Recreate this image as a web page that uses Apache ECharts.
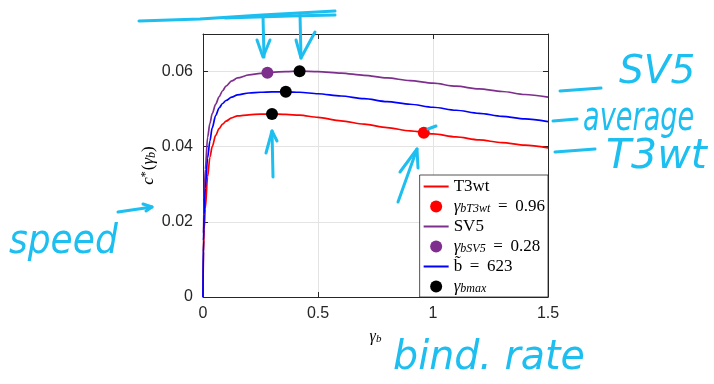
<!DOCTYPE html>
<html>
<head>
<meta charset="utf-8">
<script src="https://cdn.jsdelivr.net/npm/echarts@6/dist/echarts.min.js"></script>
<style>
  html, body { margin: 0; padding: 0; background: #fff; }
  #chart { width: 714px; height: 384px; }
</style>
</head>
<body>
<div id="chart"></div>
<script>
// Sampled binding rate gamma_b
const gammaB = [0, 0.002, 0.005, 0.01, 0.02, 0.03, 0.04, 0.055, 0.07, 0.085, 0.1, 0.125, 0.15,
                0.2, 0.25, 0.3, 0.36, 0.42, 0.5, 0.6, 0.7, 0.8, 0.9, 1.0, 1.1, 1.2, 1.3, 1.4, 1.5];

// Speed c*(gamma_b) for each motor
const speedT3wt = [0, 0.012, 0.018, 0.0235, 0.032, 0.0372, 0.0400, 0.0430, 0.0448, 0.0460, 0.0468, 0.0477, 0.0482,
                   0.0485, 0.0487, 0.0487, 0.0486, 0.0484, 0.0478, 0.0469, 0.0460, 0.0451, 0.0442, 0.0434,
                   0.0426, 0.0418, 0.0411, 0.0404, 0.0397];
const speedSV5 = [0, 0.017, 0.026, 0.034, 0.0425, 0.0462, 0.0488, 0.0513, 0.0533, 0.0549, 0.0561, 0.0575, 0.0583,
                  0.0591, 0.0595, 0.0598, 0.0600, 0.0601, 0.0600, 0.0596, 0.0590, 0.0583, 0.0576, 0.0569,
                  0.0561, 0.0554, 0.0547, 0.0539, 0.0532];
const speedAverage = [0, 0.015, 0.022, 0.029, 0.037, 0.0415, 0.0450, 0.0483, 0.0503, 0.0515, 0.0523, 0.0532, 0.0538,
                      0.0543, 0.0545, 0.0546, 0.0546, 0.0545, 0.0541, 0.0535, 0.0528, 0.0520, 0.0513, 0.0505,
                      0.0497, 0.0489, 0.0481, 0.0474, 0.0467];

// Marked points
const pointT3wt = [[0.96, 0.0437]];
const pointSV5 = [[0.28, 0.0597]];
const pointsMax = [[0.30, 0.0487], [0.36, 0.0546], [0.42, 0.0601]];

// Tick labels
const xTicks = { 0: '0', 0.5: '0.5', 1: '1', 1.5: '1.5' };
const yTicks = { 0: '0', 0.02: '0.02', 0.04: '0.04', 0.06: '0.06' };

// Legend entries
const legendNames = ['T3wt', 'γbT3wt = 0.96', 'SV5', 'γbSV5 = 0.28', 'b̃ = 623', 'γbmax'];
const legendIsDot = [false, true, false, true, false, true];
const legendRich = {
  'T3wt': '{r|T3wt}',
  'γbT3wt = 0.96': '{g|γ}{s|bT3wt}{r| \u2009=\u2009 0.96}',
  'SV5': '{r|SV5}',
  'γbSV5 = 0.28': '{g|γ}{s|bSV5}{r| \u2009=\u2009 0.28}',
  'b̃ = 623': '{r|b\u0303 \u2009=\u2009 623}',
  'γbmax': '{g|γ}{s|bmax}'
};

// Hand-drawn ink notes
const ink = '#1DBEF0';
const inkStrokes = [
  [[139, 21], [200, 19], [262, 15], [335, 11]],
  [[225, 18], [290, 16], [335, 15]],
  [[263, 16], [264, 57]], [[257, 40], [263, 57], [270, 40]],
  [[300, 14], [301, 58]], [[296, 40], [301, 58], [315, 32]],
  [[273, 177], [272, 131]], [[266, 153], [272, 131], [277, 141]],
  [[398, 202], [417, 149]], [[400, 172], [417, 149], [418, 168]],
  [[428, 129], [436, 126]],
  [[560, 91], [601, 88]],
  [[553, 121], [577, 119]],
  [[555, 152], [595, 149]],
  [[118, 212], [152, 207]], [[143, 204], [152, 207], [146, 211]]
];
const inkWords = [
  { text: 'SV5', x: 619, y: 53, size: 39, sx: 1.0 },
  { text: 'average', x: 583, y: 100, size: 40, sx: 0.68 },
  { text: 'T3wt', x: 606, y: 137, size: 41, sx: 1.0 },
  { text: 'speed', x: 9, y: 223, size: 40, sx: 0.9 },
  { text: 'bind. rate', x: 393, y: 339, size: 40, sx: 0.99 }
];

const serif = 'Liberation Serif';
const sans = 'Liberation Sans';
const axisColor = '#262626';

const chart = echarts.init(document.getElementById('chart'), null, { renderer: 'canvas' });

const pairs = (ys) => gammaB.map((x, i) => [x, ys[i]]);

const commonAxis = {
  type: 'value',
  axisLine: { show: true, onZero: false, lineStyle: { color: axisColor, width: 1 } },
  axisTick: { show: true, inside: true, length: 5, lineStyle: { color: axisColor } },
  splitLine: { show: false }
};

const option = {
  animation: false,
  backgroundColor: '#fff',
  grid: { left: 203, top: 34, width: 345, height: 263, containLabel: false },
  xAxis: [
    Object.assign({}, commonAxis, {
      min: 0, max: 1.5, interval: 0.5, position: 'bottom',
      splitLine: { show: true, lineStyle: { color: '#e3e3e3', width: 1 } },
      axisLabel: {
        margin: 9, fontSize: 16, fontFamily: sans, color: axisColor,
        formatter: (v) => xTicks[Math.round(v * 10) / 10] ?? ''
      },
      name: '{g|γ}{s|b}',
      nameLocation: 'middle',
      nameGap: 32,
      nameTextStyle: {
        rich: {
          g: { fontFamily: serif, fontStyle: 'italic', fontSize: 16, lineHeight: 16, color: '#000', verticalAlign: 'middle' },
          s: { fontFamily: serif, fontStyle: 'italic', fontSize: 11, lineHeight: 10, color: '#000', verticalAlign: 'bottom' }
        }
      }
    }),
    Object.assign({}, commonAxis, {
      min: 0, max: 1.5, interval: 0.5, position: 'top',
      axisLabel: { show: false }
    })
  ],
  yAxis: [
    Object.assign({}, commonAxis, {
      min: 0, max: 0.07, interval: 0.02, position: 'left',
      splitLine: { show: true, lineStyle: { color: '#e3e3e3', width: 1 } },
      axisLabel: {
        margin: 10, fontSize: 16, fontFamily: sans, color: axisColor,
        formatter: (v) => yTicks[Math.round(v * 100) / 100] ?? ''
      },
      name: '{i|c}{p|*}{r|(}{g|γ}{s|b}{r|)}',
      nameLocation: 'middle',
      nameGap: 44,
      nameTextStyle: {
        rich: {
          i: { fontFamily: serif, fontStyle: 'italic', fontSize: 17, lineHeight: 18, color: '#000', verticalAlign: 'middle' },
          p: { fontFamily: serif, fontSize: 12, lineHeight: 18, color: '#000', verticalAlign: 'top', padding: [0, 1, 0, 0] },
          r: { fontFamily: serif, fontSize: 17, lineHeight: 18, color: '#000', verticalAlign: 'middle' },
          g: { fontFamily: serif, fontStyle: 'italic', fontSize: 17, lineHeight: 18, color: '#000', verticalAlign: 'middle' },
          s: { fontFamily: serif, fontStyle: 'italic', fontSize: 12, lineHeight: 11, color: '#000', verticalAlign: 'bottom' }
        }
      }
    }),
    Object.assign({}, commonAxis, {
      min: 0, max: 0.07, interval: 0.02, position: 'right',
      axisLabel: { show: false }
    })
  ],
  legend: {
    data: legendNames.map((n, i) => legendIsDot[i]
      ? { name: n, icon: 'circle' }
      : { name: n, itemStyle: { opacity: 0 } }),
    orient: 'vertical',
    right: 166,
    top: 175,
    itemWidth: 25,
    itemHeight: 12,
    itemGap: 3,
    padding: [3, 3, 2, 3],
    borderColor: axisColor,
    borderWidth: 0.8,
    borderRadius: 0,
    backgroundColor: '#fff',
    selectedMode: false,
    formatter: (name) => legendRich[name],
    textStyle: {
      fontFamily: serif, fontSize: 17, lineHeight: 16, color: '#000',
      rich: {
        r: { fontFamily: serif, fontSize: 17, lineHeight: 16, color: '#000', verticalAlign: 'middle' },
        g: { fontFamily: serif, fontStyle: 'italic', fontSize: 17, lineHeight: 16, color: '#000', verticalAlign: 'middle' },
        s: { fontFamily: serif, fontStyle: 'italic', fontSize: 12, lineHeight: 10, color: '#000', verticalAlign: 'bottom' }
      }
    }
  },
  series: [
    {
      name: 'T3wt', type: 'line', data: pairs(speedT3wt), symbol: 'none',
      smooth: 0.3, smoothMonotone: 'x',
      lineStyle: { color: '#ff0000', width: 1.7 }, itemStyle: { color: '#ff0000' }, z: 2
    },
    {
      name: 'γbT3wt = 0.96', type: 'scatter', data: pointT3wt, symbol: 'circle', symbolSize: 12,
      itemStyle: { color: '#ff0000', opacity: 1 }, z: 5
    },
    {
      name: 'SV5', type: 'line', data: pairs(speedSV5), symbol: 'none',
      smooth: 0.3, smoothMonotone: 'x',
      lineStyle: { color: '#7e2f8e', width: 1.7 }, itemStyle: { color: '#7e2f8e' }, z: 2
    },
    {
      name: 'γbSV5 = 0.28', type: 'scatter', data: pointSV5, symbol: 'circle', symbolSize: 12,
      itemStyle: { color: '#7e2f8e', opacity: 1 }, z: 5
    },
    {
      name: 'b̃ = 623', type: 'line', data: pairs(speedAverage), symbol: 'none',
      smooth: 0.3, smoothMonotone: 'x',
      lineStyle: { color: '#0000ff', width: 1.7 }, itemStyle: { color: '#0000ff' }, z: 3
    },
    {
      name: 'γbmax', type: 'scatter', data: pointsMax, symbol: 'circle', symbolSize: 12,
      itemStyle: { color: '#000000', opacity: 1 }, z: 6
    }
  ],
  graphic: [
    ...inkStrokes.map((pts) => ({
      type: 'polyline', silent: true, z: 100,
      shape: { points: pts },
      style: { stroke: ink, lineWidth: 3, fill: null, lineCap: 'round', lineJoin: 'round' }
    })),
    ...inkWords.map((w) => ({
      type: 'text', silent: true, z: 100,
      x: w.x, y: w.y, scaleX: w.sx,
      style: {
        text: w.text, fontSize: w.size, fontFamily: 'DejaVu Sans', fontStyle: 'italic',
        fill: ink, verticalAlign: 'top', align: 'left'
      }
    }))
  ]
};

chart.setOption(option);
</script>
</body>
</html>
